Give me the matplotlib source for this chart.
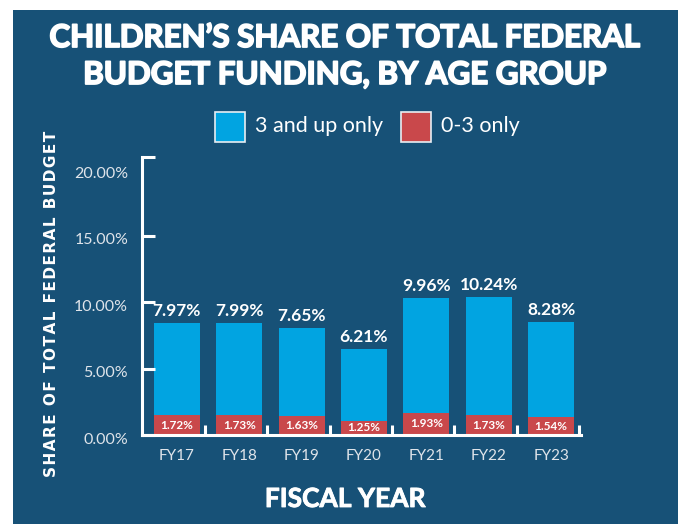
import matplotlib
matplotlib.use("Agg")
import matplotlib.pyplot as plt
from matplotlib.patches import Rectangle
from matplotlib import patheffects as pe
from matplotlib.transforms import offset_copy

years = ["FY17", "FY18", "FY19", "FY20", "FY21", "FY22", "FY23"]
up3 = [7.97, 7.99, 7.65, 6.21, 9.96, 10.24, 8.28]
under3 = [1.72, 1.73, 1.63, 1.25, 1.93, 1.73, 1.54]
ytick_vals = [0, 5, 10, 15, 20]
ytick_labels = ["0.00%", "5.00%", "10.00%", "15.00%", "20.00%"]

BG = "#175177"
BLUE = "#01a4e1"
RED = "#c9484b"
TXT = "#dfe4ea"

W, H = 678, 524
fig = plt.figure(figsize=(W / 100, H / 100), dpi=100)
fig.patch.set_facecolor("white")
fig.patches.append(Rectangle((13 / W, 0), 1 - 13 / W, 1 - 10 / H, transform=fig.transFigure,
                             facecolor=BG, edgecolor="none", zorder=0))

font = "Lato"
ax = fig.add_axes([142 / W, 89 / H, 439 / W, 278 / H])
ax.set_facecolor("none")
ax2 = ax.twinx()
ax2.set_facecolor("none")

x = list(range(len(years)))
ax2.bar(x, under3, width=0.74, color=RED, zorder=3)
ax2.bar(x, up3, width=0.74, bottom=under3, color=BLUE, zorder=3)
for i in x:
    tot = up3[i] + under3[i]
    ax2.text(i, tot + 0.35, f"{up3[i]:.2f}%", ha="center", va="bottom", color="white",
             fontsize=12.5, fontweight="bold", family=font)
    ax2.text(i, under3[i] / 2, f"{under3[i]:.2f}%", ha="center", va="center", color="white",
             fontsize=8.5, fontweight="bold", family=font)

ax.set_xlim(-0.56, len(years) - 0.52)
ax2.set_xlim(ax.get_xlim())
ytop = 20.93
ax.set_ylim(0, ytop)
ax2.set_ylim(0, 24.1)
ax2.set_yticks([])
for s in ax2.spines.values():
    s.set_visible(False)

for s in ["top", "right"]:
    ax.spines[s].set_visible(False)
ax.spines["left"].set_color("white")
ax.spines["bottom"].set_color("white")
ax.spines["left"].set_linewidth(2.2)
ax.spines["bottom"].set_linewidth(2.2)

ax.set_yticks([0, 5, 10, 15, ytop])
ax.set_yticklabels(ytick_labels[:4] + [""])
ax.set_yticks([20], minor=True)
ax.set_yticklabels([ytick_labels[4]], minor=True)
ax.tick_params(axis="y", which="major", direction="in", length=9, width=2.2, color="white",
               labelcolor=TXT, labelsize=11.5, pad=10)
ax.tick_params(axis="y", which="minor", length=0, labelcolor=TXT, labelsize=11.5, pad=10)
for lab in ax.get_yticklabels(which="both"):
    lab.set_family(font)
    lab.set_transform(offset_copy(lab.get_transform(), fig=fig, x=0, y=-3, units="dots"))

ax.set_xticks([i + 0.45 for i in x])
ax.set_xticklabels([""] * len(x))
ax.set_xticks(x, minor=True)
ax.set_xticklabels(years, minor=True)
ax.tick_params(axis="x", which="major", direction="in", length=7, width=2.2, color="white")
ax.tick_params(axis="x", which="minor", length=0, labelcolor=TXT, labelsize=11, pad=10)
for lab in ax.get_xticklabels(which="both"):
    lab.set_family(font)

ax.set_zorder(2)
ax2.set_zorder(1)

thick = [pe.withStroke(linewidth=1.3, foreground="white")]
fig.text(345 / W, 1 - 38 / H, "CHILDREN\u2019S SHARE OF TOTAL FEDERAL", ha="center", va="center",
         color="white", fontsize=22.5, fontweight="bold", family=font, path_effects=thick)
fig.text(345 / W, 1 - 75 / H, "BUDGET FUNDING, BY AGE GROUP", ha="center", va="center",
         color="white", fontsize=22.5, fontweight="bold", family=font, path_effects=thick)
fig.text(345 / W, 1 - 499 / H, "FISCAL YEAR", ha="center", va="center",
         color="white", fontsize=19, fontweight="bold", family=font,
         path_effects=[pe.withStroke(linewidth=0.6, foreground="white")])
ylab = "\u200a".join("SHARE OF TOTAL FEDERAL BUDGET")
fig.text(52 / W, 1 - 304 / H, ylab, ha="center", va="center",
         rotation=90, color="white", fontsize=11, fontweight="bold", family="DejaVu Sans")

fig.patches.append(Rectangle((215 / W, 1 - 142 / H), 30 / W, 30 / H, transform=fig.transFigure,
                             facecolor=BLUE, edgecolor="#e8eef3", linewidth=1.2, zorder=3))
fig.text(255 / W, 1 - 126 / H, "3 and up only", ha="left", va="center", color="white",
         fontsize=15.5, family=font)
fig.patches.append(Rectangle((401 / W, 1 - 142 / H), 30 / W, 30 / H, transform=fig.transFigure,
                             facecolor=RED, edgecolor="#e8eef3", linewidth=1.2, zorder=3))
fig.text(441 / W, 1 - 126 / H, "0-3 only", ha="left", va="center", color="white",
         fontsize=15.5, family=font)

fig.savefig("out.png", dpi=100, facecolor=fig.get_facecolor())
